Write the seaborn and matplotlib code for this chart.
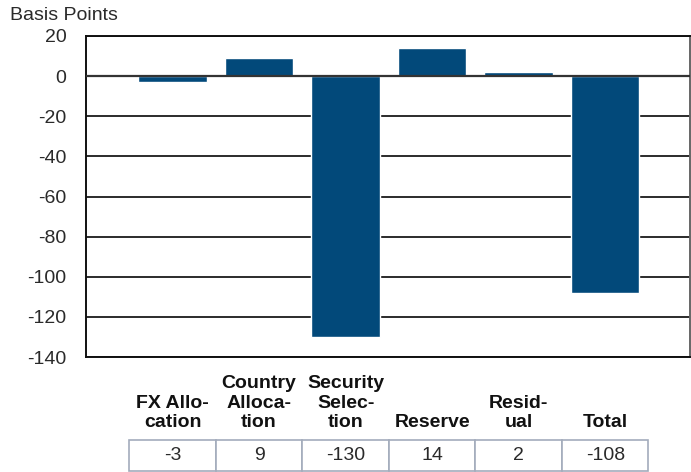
import matplotlib
matplotlib.use("Agg")
import matplotlib.pyplot as plt
import matplotlib.transforms as mtransforms
from matplotlib.patches import Rectangle
import seaborn as sns
import pandas as pd

# Attribution components (basis points)
categories = ["FX Allo-\ncation", "Country\nAlloca-\ntion", "Security\nSelec-\ntion",
              "Reserve", "Resid-\nual", "Total"]
values = [-3, 9, -130, 14, 2, -108]
y_ticks = [20, 0, -20, -40, -60, -80, -100, -120, -140]

BAR_COLOR = "#02497A"
GRID_COLOR = "#2b2b2b"
FS = 14

sns.set_theme(style="white")
plt.rcParams["font.family"] = ["Liberation Sans", "DejaVu Sans"]

df = pd.DataFrame({"category": categories, "value": values})

fig = plt.figure(figsize=(6.91, 4.72), dpi=100)
W, H = 691, 472
ax = fig.add_axes([86 / W, 1 - 357 / H, (690 - 86) / W, (357 - 36) / H])

sns.barplot(data=df, x="category", y="value", color=BAR_COLOR, saturation=1,
            width=0.79, ax=ax, zorder=3)

ax.set_ylim(-140, 20)
ax.set_xlim(-1.0, 5.98)
ax.set_yticks(y_ticks)
ax.set_yticklabels([str(t) for t in y_ticks], fontsize=FS, color="#2a2a2a")
ax.tick_params(axis="y", length=0, pad=14)
ax.set_xticks([])
ax.set_xlabel("")
ax.set_ylabel("")

for t in y_ticks:
    ax.axhline(t, color=GRID_COLOR, lw=1.4, zorder=1)
ax.axhline(0, color="#333333", lw=1.6, zorder=4)

for side in ["left", "top", "bottom"]:
    ax.spines[side].set_visible(True)
    ax.spines[side].set_color("#111111")
    ax.spines[side].set_linewidth(1.4)
ax.spines["right"].set_visible(True)
ax.spines["right"].set_color("#666666")
ax.spines["right"].set_linewidth(1.4)

fig.text(10 / W, 1 - 16 / H, "Basis Points", fontsize=FS, color="#2a2a2a",
         ha="left", va="center")

# Category labels and value table beneath the plot
trans = mtransforms.blended_transform_factory(ax.transData, fig.transFigure)
label_y = 1 - 431 / H
row_top = 1 - 440 / H
row_bot = 1 - 471 / H
for i, (cat, val) in enumerate(zip(categories, values)):
    ax.text(i, label_y, cat, transform=trans, ha="center", va="bottom",
            fontsize=FS, fontweight="bold", color="#111111",
            linespacing=1.18, clip_on=False)
    rect = Rectangle((i - 0.5, row_bot), 1.0, row_top - row_bot, transform=trans,
                     facecolor="white", edgecolor="#a3acbc", lw=1.2, clip_on=False)
    ax.add_patch(rect)
    ax.text(i, (row_top + row_bot) / 2, str(val), transform=trans, ha="center",
            va="center", fontsize=FS, color="#2a2a2a", clip_on=False)

fig.savefig("out.png", dpi=100)
